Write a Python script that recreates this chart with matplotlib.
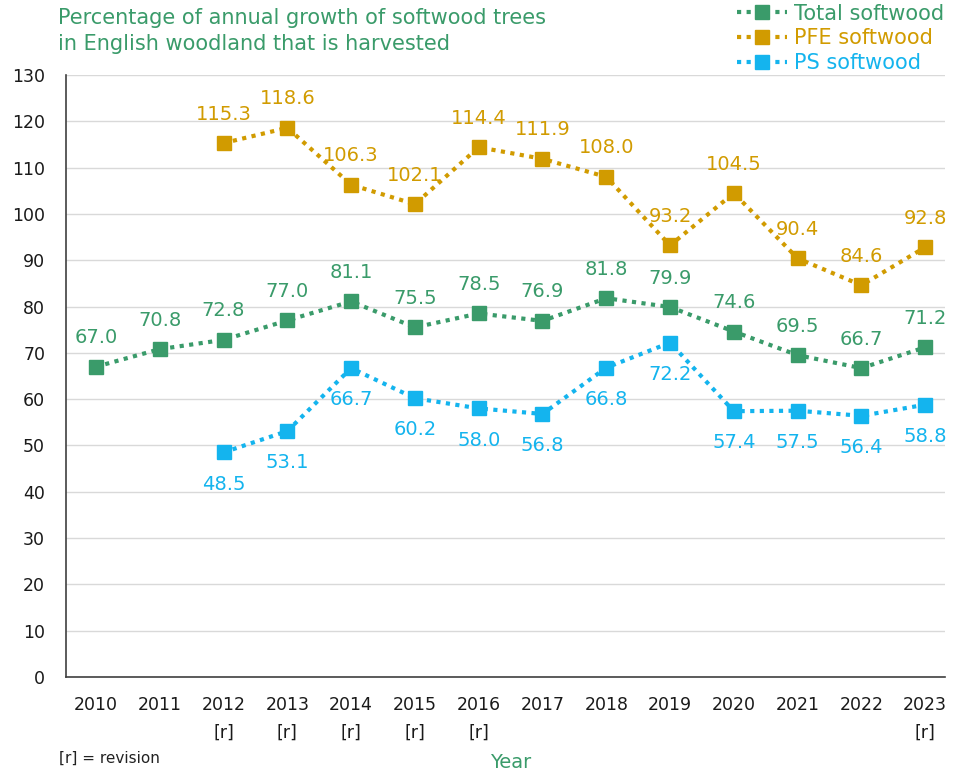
import matplotlib
matplotlib.use("Agg")
import matplotlib.pyplot as plt
import numpy as np

years = ["2010", "2011", "2012", "2013", "2014", "2015", "2016", "2017",
         "2018", "2019", "2020", "2021", "2022", "2023"]
revised = [False, False, True, True, True, True, True, False,
           False, False, False, False, False, True]
total = [67.0, 70.8, 72.8, 77.0, 81.1, 75.5, 78.5, 76.9, 81.8, 79.9, 74.6, 69.5, 66.7, 71.2]
pfe = [None, None, 115.3, 118.6, 106.3, 102.1, 114.4, 111.9, 108.0, 93.2, 104.5, 90.4, 84.6, 92.8]
ps = [None, None, 48.5, 53.1, 66.7, 60.2, 58.0, 56.8, 66.8, 72.2, 57.4, 57.5, 56.4, 58.8]

c_total = "#3A9B6A"
c_pfe = "#D19B00"
c_ps = "#14B4EE"

plt.rcParams['font.family'] = ['DejaVu Sans']
fig = plt.figure(figsize=(9.55, 7.75), dpi=100)
ax = fig.add_axes([0.0691, 0.1265, 0.9895 - 0.0691, 0.9032 - 0.1265])

x = np.arange(len(years))

def to_arr(v):
    return np.array([np.nan if a is None else a for a in v], dtype=float)

series = [("Total softwood", to_arr(total), c_total, 14),
          ("PFE softwood", to_arr(pfe), c_pfe, 14),
          ("PS softwood", to_arr(ps), c_ps, -16)]

for name, vals, col, off in series:
    ax.plot(x, vals, linestyle=(0, (1, 1.3)), linewidth=3, color=col,
            marker='s', markersize=10, markerfacecolor=col, markeredgecolor=col,
            label=name, zorder=3)
    for xi, v in zip(x, vals):
        if np.isnan(v):
            continue
        ax.annotate(f"{v:.1f}", (xi, v), xytext=(0, off),
                    textcoords='offset points', ha='center',
                    va='bottom' if off > 0 else 'top',
                    fontsize=14, color=col)

ax.set_ylim(0, 130)
ax.set_yticks(np.arange(0, 131, 10))
ax.set_xlim(-0.47, 13.31)
ax.set_xticks(x)
ax.set_xticklabels([y + ("\n[r]" if r else "\n") for y, r in zip(years, revised)],
                   fontsize=12.5, linespacing=1.65)
ax.tick_params(axis='y', labelsize=12.5, length=0, pad=15, labelcolor='#1a1a1a')
ax.tick_params(axis='x', length=0, pad=14, labelcolor='#1a1a1a')
ax.grid(axis='y', color='#D9D9D9', linewidth=1)
ax.set_axisbelow(True)
for s in ['top', 'right']:
    ax.spines[s].set_visible(False)
ax.spines['left'].set_color('#404040')
ax.spines['bottom'].set_color('#404040')
ax.spines['left'].set_linewidth(1.2)
ax.spines['bottom'].set_linewidth(1.2)

fig.text(0.061, 0.99, "Percentage of annual growth of softwood trees\nin English woodland that is harvested",
         fontsize=15, color=c_total, va='top', ha='left', linespacing=1.38)

leg = fig.legend(loc='upper right', bbox_to_anchor=(1.004, 1.014), frameon=False,
                 fontsize=15, labelcolor='linecolor', handlelength=2.4,
                 handletextpad=0.35, labelspacing=0.22, borderpad=0.2)

fig.text(0.535, 0.004, "Year", fontsize=14, color=c_total, ha='center', va='bottom')
fig.text(0.062, 0.012, "[r] = revision", fontsize=11, color='#222222', ha='left', va='bottom')

fig.savefig("out.png", dpi=100)
